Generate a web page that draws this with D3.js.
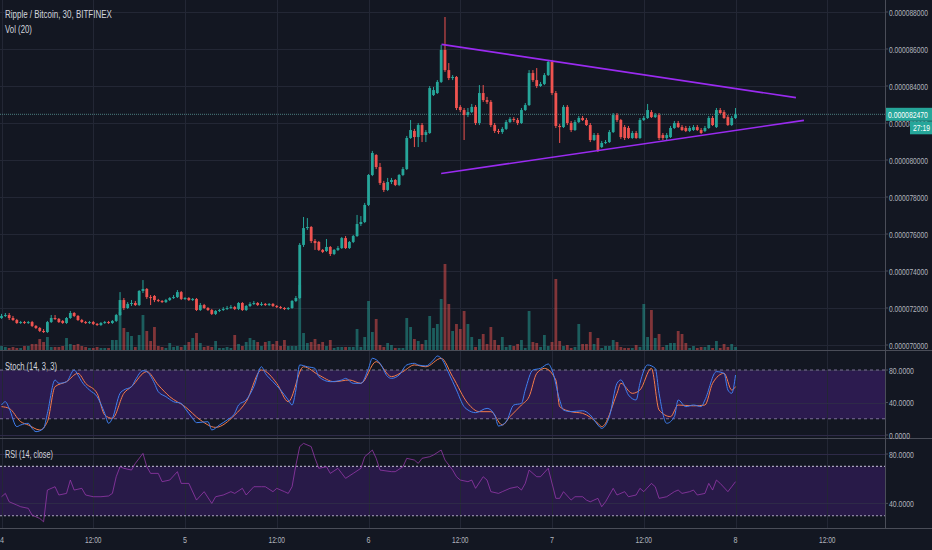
<!DOCTYPE html>
<html><head><meta charset="utf-8">
<script src="https://cdn.jsdelivr.net/npm/d3@7"></script>
<style>html,body{margin:0;padding:0;background:#131722;overflow:hidden}svg{display:block}</style>
</head><body><svg id="c" width="932" height="550"></svg>
<script>
// ---------------- DATA (prices in satoshi, 1e-8 BTC) ----------------
const title = "Ripple / Bitcoin, 30, BITFINEX";
const volTitle = "Vol (20)";
const stochTitle = "Stoch (14, 3, 3)";
const rsiTitle = "RSI (14, close)";
const lastPriceLabel = "0.000082470";
const countdownLabel = "27:19";
const lastPrice = 8247;

const priceTicks = [7000,7200,7400,7600,7800,8000,8200,8400,8600,8800];
const stochTicks = [0,40,80];
const rsiTicks = [40,80];
const timeTickIdx = [0,24,48,72,96,120,144,168,192,216];
const timeTickLabels = ["4","12:00","5","12:00","6","12:00","7","12:00","8","12:00"];

// [open, high, low, close] per 30-minute candle, starting day 4 00:00
const ohlc = [
[7146,7168,7141,7157],[7157,7173,7151,7162],[7162,7173,7135,7146],[7146,7157,7130,7135],[7135,7141,7114,7119],
[7119,7130,7114,7124],[7124,7130,7114,7119],[7119,7130,7114,7124],[7124,7130,7097,7103],[7103,7108,7086,7092],
[7092,7097,7070,7076],[7076,7086,7065,7070],[7070,7130,7065,7124],[7124,7162,7119,7146],[7146,7162,7135,7141],
[7141,7146,7119,7124],[7130,7135,7114,7119],[7119,7151,7114,7146],[7146,7184,7141,7173],[7173,7178,7151,7157],
[7157,7162,7130,7135],[7135,7141,7119,7124],[7124,7130,7114,7119],[7119,7130,7114,7124],[7124,7130,7108,7114],
[7114,7119,7103,7108],[7108,7124,7103,7119],[7119,7130,7114,7124],[7124,7130,7114,7119],[7119,7135,7114,7130],
[7130,7168,7124,7162],[7162,7286,7157,7243],[7243,7254,7189,7200],[7200,7232,7195,7222],[7222,7243,7211,7227],
[7227,7238,7211,7216],[7216,7297,7211,7292],[7292,7351,7281,7303],[7303,7308,7249,7259],[7259,7270,7216,7254],
[7265,7270,7232,7243],[7243,7249,7232,7238],[7238,7243,7227,7232],[7232,7249,7227,7243],[7243,7259,7238,7254],
[7254,7270,7249,7259],[7259,7297,7254,7286],[7286,7292,7243,7249],[7249,7259,7243,7254],[7254,7259,7238,7243],
[7243,7254,7238,7249],[7249,7254,7184,7189],[7189,7227,7184,7216],[7216,7222,7195,7200],[7200,7205,7184,7189],
[7189,7195,7162,7168],[7168,7189,7162,7184],[7184,7195,7178,7189],[7189,7205,7184,7195],[7195,7211,7189,7200],
[7200,7216,7195,7205],[7205,7211,7189,7195],[7195,7232,7189,7227],[7227,7232,7184,7189],[7189,7216,7184,7211],
[7211,7232,7205,7222],[7222,7238,7216,7227],[7227,7232,7211,7216],[7216,7232,7211,7222],[7222,7227,7211,7216],
[7216,7227,7211,7222],[7222,7227,7205,7211],[7211,7216,7200,7205],[7205,7211,7195,7200],[7200,7205,7189,7195],
[7195,7205,7189,7200],[7200,7243,7195,7238],[7238,7265,7232,7254],[7254,7551,7249,7541],[7541,7692,7530,7632],
[7632,7686,7622,7638],[7638,7643,7551,7562],[7562,7573,7514,7551],[7557,7562,7508,7514],[7514,7519,7497,7503],
[7508,7573,7503,7530],[7530,7535,7481,7492],[7492,7519,7486,7514],[7514,7535,7508,7524],[7524,7584,7519,7578],
[7578,7589,7519,7524],[7524,7562,7519,7557],[7557,7595,7551,7589],[7589,7703,7584,7654],[7654,7697,7643,7665],
[7665,7768,7659,7757],[7757,7924,7751,7919],[7919,8049,7913,8038],[8027,8032,7951,7962],[7962,7984,7865,7876],
[7876,7887,7827,7838],[7838,7903,7832,7881],[7881,7903,7870,7892],[7892,7897,7859,7865],[7865,7924,7859,7919],
[7919,7962,7913,7951],[7951,8130,7946,8119],[8119,8216,8114,8162],[8157,8168,8070,8124],[8124,8200,8070,8189],
[8189,8200,8097,8135],[8135,8162,8097,8151],[8146,8400,8141,8389],[8351,8395,8346,8378],[8362,8432,8357,8422],
[8422,8622,8416,8595],[8595,8773,8476,8486],[8486,8524,8432,8443],[8443,8459,8432,8449],[8449,8454,8270,8281],
[8287,8297,8259,8270],[8270,8281,8108,8243],[8243,8281,8232,8259],[8259,8303,8254,8287],[8287,8297,8189,8200],
[8200,8405,8189,8362],[8362,8405,8314,8324],[8324,8341,8303,8314],[8314,8324,8178,8189],[8189,8200,8146,8157],
[8157,8168,8141,8151],[8151,8178,8141,8168],[8168,8216,8162,8205],[8205,8232,8200,8222],[8222,8232,8205,8216],
[8216,8227,8189,8200],[8200,8281,8195,8270],[8270,8308,8265,8297],[8297,8486,8292,8470],[8470,8486,8422,8432],
[8432,8497,8389,8400],[8400,8422,8395,8411],[8411,8470,8405,8459],[8459,8541,8454,8530],[8530,8541,8351,8362],
[8362,8373,8173,8184],[8184,8195,8092,8178],[8178,8297,8173,8287],[8287,8297,8189,8200],[8200,8211,8151,8162],
[8162,8216,8157,8205],[8205,8238,8200,8227],[8227,8238,8211,8216],[8216,8227,8184,8189],[8189,8200,8097,8108],
[8108,8146,8103,8135],[8135,8146,8043,8054],[8070,8103,8065,8092],[8092,8108,8086,8097],[8097,8162,8092,8151],
[8151,8254,8146,8243],[8243,8254,8205,8216],[8216,8222,8114,8124],[8178,8189,8108,8119],[8173,8184,8114,8119],
[8119,8157,8114,8146],[8146,8157,8114,8119],[8119,8227,8114,8216],[8216,8238,8211,8227],[8227,8303,8222,8270],
[8259,8270,8227,8232],[8232,8254,8227,8243],[8243,8254,8108,8119],[8135,8146,8108,8119],[8119,8146,8108,8135],
[8124,8184,8119,8173],[8173,8211,8168,8200],[8200,8211,8173,8178],[8178,8189,8157,8162],[8173,8184,8151,8157],
[8157,8184,8151,8173],[8162,8189,8157,8178],[8178,8189,8157,8162],[8162,8173,8141,8146],[8157,8184,8151,8173],
[8173,8238,8168,8227],[8227,8238,8184,8189],[8178,8281,8173,8270],[8270,8281,8249,8254],[8259,8270,8222,8227],
[8232,8243,8184,8189],[8189,8238,8184,8227],[8227,8281,8222,8247]
];

// relative volume per candle
const volume = [
4,3,2,3,2,2,4,4,6,6, 11,8,13,3,3,3,4,12,6,5, 6,4,3,2,2,3,2,2,2,10, 10,38,22,18,14,3,15,35,19,9,
23,4,3,2,7,3,4,3,5,8, 12,17,7,3,4,3,9,2,2,3, 2,15,6,4,8,12,10,8,4,8, 9,6,9,4,10,4,4,4,65,17,
7,8,11,6,8,4,
10,2,3,3,3,3,3,21,3,13, 49,18,31,5,3,7,5,2,2,2, 32,23,11,9,6,10,34,22,26,51, 86,46,19,26,21,39,26,13,3,11,
16,6,23,10,5,13,3,5,4,6, 10,2,39,8,7,3,15,4,8,71, 9,4,5,2,3,26,6,6,18,6, 12,2,4,4,10,8,3,2,2,2,
5,3,46,13,40,12,16,3,5,7, 7,19,16,7,2,4,2,3,3,5, 2,9,2,6,3,6,3
];

// Stochastic %K and %D, [candle index, value]
const stochK = [[0,36.9],[1,41],[2,32.8],[4,10.3],[5,12.3],[7,14.4],[8,8.2],[9,4.1],[11,8.2],[12,26.7],[14,67.7],[15,63.6],[17,65.6],[19,80],[20,73.8],[21,65.6],[23,55.4],[25,47.2],[27,26.7],[28,14.4],[29,20.5],[31,51.3],[32,55.4],[34,59.5],[35,67.7],[37,79.2],[38,78],[40,63.6],[41,53.3],[43,47.2],[45,41],[47,38.9],[48,32.8],[50,20.5],[51,15.2],[54,16.4],[55,6.2],[57,12.3],[59,18.5],[61,26.7],[62,36.9],[64,43.1],[66,59.5],[68,84],[69,75.9],[71,65.6],[73,55.4],[75,43.1],[76,36.9],[77,55.4],[78,86.2],[80,84],[82,82],[83,71.8],[86,65.6],[89,67.7],[90,69.7],[92,63.6],[94,63.6],[96,82],[97,94.4],[99,88.2],[101,71.8],[102,69.7],[104,73.8],[106,86.2],[108,88.2],[109,86.2],[111,85],[113,92.3],[114,97.2],[115,94.4],[117,75.9],[119,55.4],[121,34.9],[122,30.8],[124,27.5],[127,32.8],[129,24.6],[130,11.1],[132,16.4],[134,36.9],[136,38.9],[137,55.4],[139,80],[141,82],[143,87.4],[144,80],[146,43.1],[147,30.8],[149,28.7],[152,29.9],[154,24.6],[156,12.3],[157,8.2],[159,22.6],[161,63.6],[162,67.7],[164,49.2],[166,43.1],[167,63.6],[169,86.2],[171,82],[172,51.3],[174,14.4],[176,22.6],[177,43.1],[179,34.9],[181,36.9],[183,34.9],[184,43.1],[187,78],[189,75.9],[190,55.4],[191,51.3],[192,73.8]];
const stochD = [[0,34.9],[2,32.8],[5,16.4],[7,12.3],[10,6.2],[12,16.4],[14,59.5],[17,65.6],[20,75.9],[22,63.6],[25,51.3],[27,24.6],[29,20.5],[32,51.3],[34,59.5],[38,78],[41,61.5],[44,47.2],[48,34.9],[52,18.5],[56,9.4],[61,24.6],[64,41],[68,80],[72,63.6],[75,41],[79,84],[83,73.8],[87,65.6],[91,67.7],[94,63.6],[98,90.3],[102,71.8],[105,78],[108,86.2],[111,84],[115,94.4],[118,71.8],[122,38.9],[125,28.7],[128,28.7],[131,12.3],[133,22.6],[136,36.9],[138,47.2],[140,75.9],[142,82],[145,67.7],[146,34.9],[149,28.7],[152,26.7],[156,14.4],[157,10.3],[161,51.3],[162,63.6],[165,51.3],[167,55.4],[170,82],[172,30.8],[175,22.6],[177,36.9],[181,35.9],[184,36.9],[186,63.6],[189,75.9],[191,55.4],[192,59.5]];

// RSI (14, close), [candle index, value]
const rsi = [[0,45.4],[1,48.1],[2,41.3],[4,38.7],[5,37.3],[7,36],[8,30.5],[10,27.8],[11,25.1],[12,50.8],[14,53.5],[15,46.8],[17,48.1],[18,58.9],[19,50.8],[21,52.2],[22,46.8],[24,45.4],[26,45.4],[28,46],[29,48.1],[30,61.6],[31,69.7],[32,68.4],[34,67],[35,72.4],[37,80.5],[38,69.7],[39,64.3],[41,64.3],[42,57.6],[44,58.9],[46,65.7],[47,56.2],[49,56.2],[51,42.7],[53,49.5],[55,40],[56,45.4],[58,46.8],[60,49.5],[61,48.1],[63,52.2],[64,46.8],[66,53.5],[68,53.5],[69,53.5],[71,49.5],[72,52.2],[74,49.5],[75,48.1],[76,53.5],[77,71],[78,86],[79,88.6],[81,86],[82,76.5],[83,68.4],[85,69.7],[86,64.3],[88,68.4],[89,64.3],[90,60.3],[92,64.3],[94,68.4],[95,77.8],[97,83.2],[98,76.5],[99,67],[102,65.7],[103,65.7],[105,69.7],[106,76.5],[108,75.1],[109,72.4],[110,76.5],[112,77.8],[113,79.2],[115,83.2],[116,75.1],[118,67],[119,61.6],[120,58.9],[122,57.6],[123,58.9],[124,52.2],[126,61.6],[127,58.9],[128,49.5],[130,48.1],[131,49.5],[133,52.2],[135,53.5],[136,50.8],[137,56.2],[138,67],[140,61.6],[141,61.6],[143,68.4],[145,44.1],[146,44.1],[147,49.5],[149,42.7],[150,45.4],[152,45.4],[153,42.7],[154,41.3],[156,44.1],[157,37.3],[158,41.3],[160,52.2],[161,46.8],[163,49.5],[164,45.4],[166,46.8],[167,52.2],[168,49.5],[170,56.2],[171,53.5],[172,44.1],[174,45.4],[176,49.5],[177,50.8],[178,48.1],[180,49.5],[181,50.8],[182,46.8],[184,48.1],[185,56.2],[186,50.8],[187,58.9],[188,56.2],[190,49.5],[191,53.5],[192,57.6]];

// Triangle trend lines drawn on the chart: [[index, price],[index, price]]
const upperTrend = [[115.1,8625],[207.8,8337]];
const lowerTrend = [[115,7927],[209.9,8214]];

// ---------------- LAYOUT ----------------
const axisX = 885;
const mainBottom = 350, stochBottom = 438, rsiBottom = 528;
const upCol = "#26a69a", dnCol = "#ef5350";
const gridCol = "#232735";
const textCol = "#b2b5be";
const FONT = "'Liberation Sans','DejaVu Sans',sans-serif";

const svg = d3.select("#c");
const x = d3.scaleLinear().domain([-0.4, 231.1]).range([0, axisX]);
const yP = d3.scaleLinear().domain([7000, 8800]).range([345, 12]);
const yV = d3.scaleLinear().domain([0, 86]).range([mainBottom, 264]);
const yS = d3.scaleLinear().domain([0, 80]).range([435, 370]);
const yR = d3.scaleLinear().domain([40, 80]).range([503.4, 454]);

svg.append("rect").attr("width", 932).attr("height", 550).attr("fill", "#131722");

const defs = svg.append("defs");
[["clipMain",0,mainBottom],["clipStoch",mainBottom,stochBottom],["clipRsi",stochBottom,rsiBottom]].forEach(([id,y0,y1])=>{
  defs.append("clipPath").attr("id",id).append("rect").attr("x",0).attr("y",y0).attr("width",axisX).attr("height",y1-y0);
});

// bands
svg.append("rect").attr("x",0).attr("width",axisX).attr("y",yS(80)).attr("height",yS(20)-yS(80)).attr("fill","#2c1b4f");
svg.append("rect").attr("x",0).attr("width",axisX).attr("y",yR(70)).attr("height",yR(30)-yR(70)).attr("fill","#281a48");

// grid
const grid = svg.append("g").attr("stroke", gridCol).attr("stroke-width", 1);
timeTickIdx.forEach(t=>{
  const xx = Math.round(x(t))+0.5;
  if (xx < axisX) grid.append("line").attr("x1",xx).attr("x2",xx).attr("y1",0).attr("y2",rsiBottom);
});
priceTicks.forEach(p=>{ const yy=Math.round(yP(p))+0.5; grid.append("line").attr("x1",0).attr("x2",axisX).attr("y1",yy).attr("y2",yy);});
stochTicks.forEach(v=>{ const yy=Math.round(yS(v))+0.5; grid.append("line").attr("x1",0).attr("x2",axisX).attr("y1",yy).attr("y2",yy).attr("stroke","#2e2a48");});
rsiTicks.forEach(v=>{ const yy=Math.round(yR(v))+0.5; grid.append("line").attr("x1",0).attr("x2",axisX).attr("y1",yy).attr("y2",yy).attr("stroke","#2e2a48");});

// band lines
[80,20].forEach(v=>svg.append("line").attr("x1",0).attr("x2",axisX).attr("y1",yS(v)).attr("y2",yS(v))
  .attr("stroke","#7b6f96").attr("stroke-dasharray","3,3").attr("stroke-width",1));
[70,30].forEach(v=>svg.append("line").attr("x1",0).attr("x2",axisX).attr("y1",yR(v)).attr("y2",yR(v))
  .attr("stroke","#a9a3bd").attr("stroke-dasharray","2,2").attr("stroke-width",1.2));

// volume
const gMain = svg.append("g").attr("clip-path","url(#clipMain)");
gMain.append("g").selectAll("rect").data(volume).join("rect")
  .attr("x",(d,i)=>x(i)-1.4).attr("width",2.8)
  .attr("y",d=>yV(d)).attr("height",d=>mainBottom-yV(d))
  .attr("fill",(d,i)=> ohlc[i][3]>=ohlc[i][0] ? "rgba(38,166,154,0.5)" : "rgba(239,83,80,0.5)");

// last price line
gMain.append("line").attr("x1",0).attr("x2",axisX).attr("y1",yP(lastPrice)).attr("y2",yP(lastPrice))
  .attr("stroke","#4b7f80").attr("stroke-width",1).attr("stroke-dasharray","1,1");

// candles
const gC = gMain.append("g");
ohlc.forEach((d,i)=>{
  const [o,h,l,c]=d; const col = c>=o?upCol:dnCol; const cx=x(i);
  gC.append("line").attr("x1",cx).attr("x2",cx).attr("y1",yP(h)).attr("y2",yP(l)).attr("stroke",col).attr("stroke-width",1);
  const top=yP(Math.max(o,c)), bot=yP(Math.min(o,c));
  gC.append("rect").attr("x",cx-1.4).attr("width",2.8).attr("y",top).attr("height",Math.max(1,bot-top)).attr("fill",col);
});

// trend lines
[upperTrend, lowerTrend].forEach(tl=>{
  gMain.append("line").attr("x1",x(tl[0][0])).attr("y1",yP(tl[0][1])).attr("x2",x(tl[1][0])).attr("y2",yP(tl[1][1]))
    .attr("stroke","#9a2bf0").attr("stroke-width",1.6);
});

// stoch lines
const lineS = d3.line().x(d=>x(d[0])).y(d=>yS(d[1])).curve(d3.curveMonotoneX);
const gS = svg.append("g").attr("clip-path","url(#clipStoch)");
gS.append("path").attr("d",lineS(stochD)).attr("fill","none").attr("stroke","#f57c4a").attr("stroke-width",1);
gS.append("path").attr("d",lineS(stochK)).attr("fill","none").attr("stroke","#3f7ff0").attr("stroke-width",1);

// rsi
const lineR = d3.line().x(d=>x(d[0])).y(d=>yR(d[1]));
svg.append("g").attr("clip-path","url(#clipRsi)").append("path").attr("d",lineR(rsi))
  .attr("fill","none").attr("stroke","#a03ab4").attr("stroke-width",0.8).attr("opacity",0.9);

// separators & axis line
const sep = svg.append("g").attr("stroke","#4a4d58").attr("stroke-width",1);
[mainBottom, stochBottom, rsiBottom].forEach(yy=>sep.append("line").attr("x1",0).attr("x2",932).attr("y1",yy+0.5).attr("y2",yy+0.5));
sep.append("line").attr("x1",axisX+0.5).attr("x2",axisX+0.5).attr("y1",0).attr("y2",rsiBottom);

// text helper: width-fitted, horizontally condensed text
function label(txt, xx, yy, width, opts={}) {
  const g = svg.append("g");
  const t = g.append("text").attr("x",0).attr("y",0).text(txt)
    .attr("font-family",FONT).attr("font-size",opts.size||9.5).attr("fill",opts.fill||textCol);
  const w = t.node().getComputedTextLength() || 1;
  const sx = width ? width / w : 1;
  const ww = width || w;
  let x0 = xx;
  if (opts.anchor === "middle") x0 = xx - ww/2;
  if (x0 < 0) x0 = 0;
  g.attr("transform", `translate(${x0},${yy}) scale(${sx},1)`);
  return g;
}
const fmtP = p => (p*1e-8).toFixed(9);
priceTicks.forEach(p=>{
  svg.append("line").attr("x1",axisX).attr("x2",axisX+3).attr("y1",yP(p)).attr("y2",yP(p)).attr("stroke","#4a4d58");
  label(fmtP(p), 889, yP(p)+3.5, 39);
});
stochTicks.forEach(v=>{
  svg.append("line").attr("x1",axisX).attr("x2",axisX+3).attr("y1",yS(v)).attr("y2",yS(v)).attr("stroke","#4a4d58");
  label(v.toFixed(4), 889, yS(v)+3.5, v===0?21:25);
});
rsiTicks.forEach(v=>{
  svg.append("line").attr("x1",axisX).attr("x2",axisX+3).attr("y1",yR(v)).attr("y2",yR(v)).attr("stroke","#4a4d58");
  label(v.toFixed(4), 889, yR(v)+3.5, 25);
});
timeTickIdx.forEach((t,k)=>{
  const s = timeTickLabels[k];
  label(s, x(t), 543, s.length>2?16.5:4, {anchor:"middle"});
});

// last price tag + countdown
const yl = yP(lastPrice);
svg.append("rect").attr("x",axisX+1).attr("y",yl-6.5).attr("width",932-axisX-1).attr("height",13).attr("fill","#26a69a");
label(lastPriceLabel, 888, yl+3.5, 40, {fill:"#ffffff"});
svg.append("rect").attr("x",910).attr("y",yl+7).attr("width",22).attr("height",13).attr("fill","#26a69a");
label(countdownLabel, 913, yl+17, 17, {fill:"#ffffff"});

// titles
label(title, 5, 18, 107, {size:10.5, fill:"#d1d4dc"});
label(volTitle, 5, 33, 27, {size:10.5, fill:"#d1d4dc"});
label(stochTitle, 5, 370, 52, {size:10.5, fill:"#d1d4dc"});
label(rsiTitle, 5, 458, 48, {size:10.5, fill:"#d1d4dc"});
</script>
</body></html>
